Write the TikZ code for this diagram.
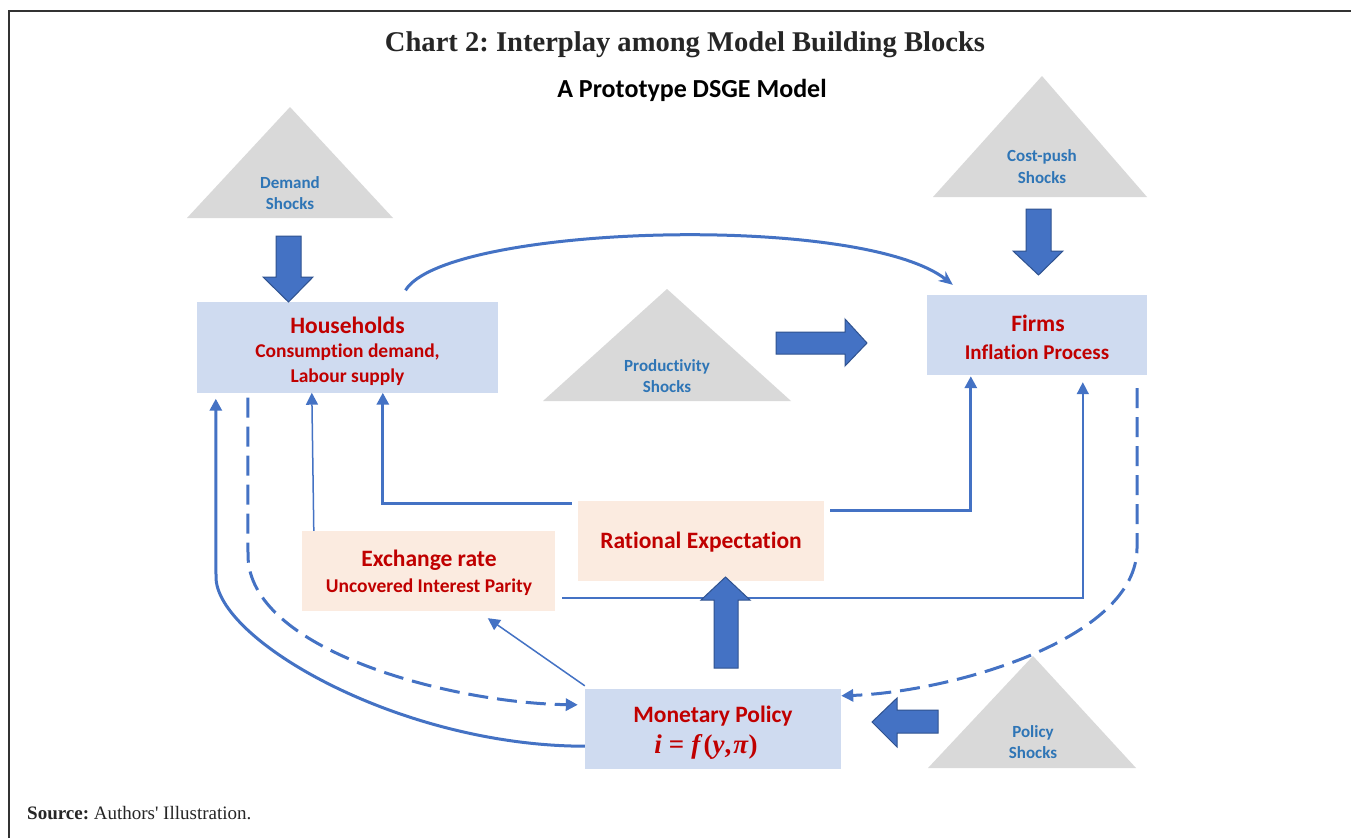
\documentclass[tikz,border=0pt]{standalone}
\usepackage{fontspec}
\setmainfont{Liberation Serif}
\newfontfamily\carl[Ligatures=NoCommon]{Carlito}
\usepackage{graphicx}
\usetikzlibrary{arrows.meta,calc}
\definecolor{cblue}{RGB}{68,114,196}
\definecolor{cdark}{RGB}{47,82,143}
\definecolor{boxblue}{RGB}{207,219,240}
\definecolor{peach}{RGB}{251,235,224}
\definecolor{shgray}{RGB}{217,217,217}
\definecolor{tred}{RGB}{192,0,0}
\definecolor{tblue}{RGB}{46,117,182}
\definecolor{framec}{RGB}{50,50,50}
\frenchspacing
\begin{document}
\begin{tikzpicture}[x=1pt,y=-1pt,
  bluebox/.style={fill=boxblue, draw=none, inner sep=0pt},
  peachbox/.style={fill=peach, draw=none, inner sep=0pt},
  tri/.style={fill=shgray, draw=none},
  shocktxt/.style={text=tblue, font=\carl\bfseries\fontsize{17}{21}\selectfont, inner sep=0pt},
  bigtxt/.style={text=tred, font=\carl\bfseries\fontsize{23.5}{28}\selectfont, inner sep=0pt},
  subtxt/.style={text=tred, font=\carl\bfseries\fontsize{19.5}{24}\selectfont, inner sep=0pt},
  blockarrow/.style={fill=cblue, draw=cdark, line width=1pt, line join=miter},
  thickconn/.style={draw=cblue, line width=3pt},
  thinconn/.style={draw=cblue, line width=1.5pt},
  dashconn/.style={draw=cblue, line width=3pt, dash pattern=on 20pt off 9pt},
  arrowend/.style={-{Triangle[length=12pt,width=12pt]}},
]
\useasboundingbox (0,0) rectangle (1351,838);
\fill[white] (0,0) rectangle (1351,838);
% frame
\draw[framec, line width=1.5pt] (9,838) -- (9,11) -- (1351,11);

% titles
\node[anchor=base, inner sep=0pt, font=\bfseries\fontsize{28.5}{34}\selectfont, text=black!85] (title) at (685,51) {\resizebox{600pt}{!}{Chart 2: Interplay among Model Building Blocks}};
\node[font=\carl\bfseries\fontsize{26}{31}\selectfont] (subtitle) at (692,90) {A Prototype DSGE Model};
\node[anchor=base west, font=\fontsize{19}{22}\selectfont, text=black!85, inner sep=0pt] (src) at (27,819) {\textbf{Source:} Authors\textquotesingle\ Illustration.};

% shock triangles
\fill[tri] (290,107) -- (393,218) -- (187,218) -- cycle;
\node[shocktxt] (dem1) at (290,183) {Demand};
\node[shocktxt] (dem2) at (290,204) {Shocks};
\fill[tri] (1042,76) -- (1147,197) -- (933,197) -- cycle;
\node[shocktxt] (cp1) at (1042,157) {Cost-push};
\node[shocktxt] (cp2) at (1042,178) {Shocks};
\fill[tri] (667,289) -- (791,401) -- (543,401) -- cycle;
\node[shocktxt] (pr1) at (667,367) {Productivity};
\node[shocktxt] (pr2) at (667,387) {Shocks};
\fill[tri] (1033,656) -- (1136,768) -- (928,768) -- cycle;
\node[shocktxt] (po1) at (1033,733) {Policy};
\node[shocktxt] (po2) at (1033,753) {Shocks};

% boxes
\node[bluebox, minimum width=301pt, minimum height=91pt] (hh) at (347.5,347) {};
\node[bigtxt] (hhT) at (347.5,325) {Households};
\node[subtxt] (hhA) at (347.5,352) {Consumption demand,};
\node[subtxt] (hhB) at (347.5,377) {Labour supply};

\node[bluebox, minimum width=220pt, minimum height=80pt] (fi) at (1037,335) {};
\node[bigtxt] (fiT) at (1038,323) {Firms};
\node[subtxt, font=\carl\bfseries\fontsize{21}{25}\selectfont] (fiA) at (1037,352) {Inflation Process};

\node[peachbox, minimum width=246pt, minimum height=80pt] (re) at (701,541) {};
\node[bigtxt] (reT) at (701,542) {Rational Expectation};

\node[peachbox, minimum width=253pt, minimum height=80pt] (ex) at (428.5,571) {};
\node[bigtxt] (exT) at (429,560) {Exchange rate};
\node[subtxt] (exA) at (429,587) {Uncovered Interest Parity};

\node[bluebox, minimum width=256pt, minimum height=80pt] (mp) at (713,729) {};
\node[bigtxt] (mpT) at (713,716) {Monetary Policy};
\node[text=tred, font=\bfseries\fontsize{27}{30}\selectfont, inner sep=0pt] (mpF) at (706,747) {\textit{i}\kern7pt=\kern7pt\textit{f}\kern1pt(\textit{y},\kern2pt\textit{π})};

% connectors
\draw[thickconn, -{Stealth[length=14pt,width=12pt]}] ($(hh.north)+(58,-11)$) .. controls (445,225) and (860,212) .. ($(fi.north west)+(26,-10)$);
\draw[thickconn, arrowend] ($(re.north west)+(-6,3)$) -| ($(hh.south west)+(186,0)$);
\draw[thickconn, arrowend] ($(re.north east)+(6,10)$) -| ($(fi.south west)+(44,1)$);
\draw[thinconn, arrowend] ($(ex.north west)+(12,0)$) -- ($(hh.south west)+(115,0)$);
\draw[thinconn, arrowend] ($(ex.south east)+(7,-13)$) -| ($(fi.south west)+(156,7)$);
\draw[thinconn, arrowend] ($(mp.north west)+(0,-3)$) -- ($(ex.south west)+(186,7)$);
\draw[thickconn, arrowend] ($(mp.south west)+(0,-23)$) .. controls (400,746) and (216,640) .. (216,577) -- ($(hh.south west)+(19,6)$);
\draw[dashconn, arrowend] ($(hh.south west)+(51,5)$) -- (248,555) .. controls (248,650) and (450,703) .. ($(mp.north west)+(-7,16)$);
\draw[dashconn, arrowend] ($(fi.south east)+(-10,13)$) -- (1137,548) .. controls (1137,640) and (950,692) .. ($(mp.north east)+(0,7)$);

% block arrows
\filldraw[blockarrow] (276,236) -- (301,236) -- (301,277) -- (313,277) -- (288.5,302) -- (263,277) -- (276,277) -- cycle;
\filldraw[blockarrow] (1026,209) -- (1051,209) -- (1051,251) -- (1063,251) -- (1038.5,275) -- (1013,251) -- (1026,251) -- cycle;
\filldraw[blockarrow] (776,332) -- (845,332) -- (845,319) -- (867,343) -- (845,366) -- (845,354) -- (776,354) -- cycle;
\filldraw[blockarrow] (938,710) -- (897,710) -- (897,698) -- (872,722) -- (897,747) -- (897,733) -- (938,733) -- cycle;
\filldraw[blockarrow] (714,668) -- (714,600) -- (701,600) -- (725.5,577) -- (750,600) -- (738,600) -- (738,668) -- cycle;
\end{tikzpicture}
\end{document}
